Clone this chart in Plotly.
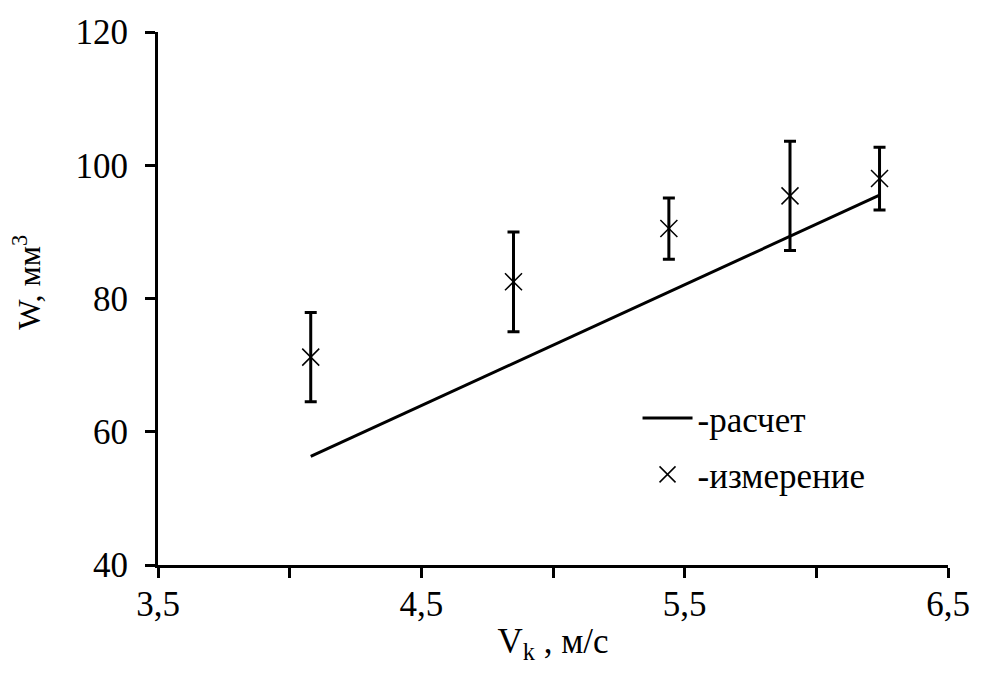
import plotly.graph_objects as go

# Data
v_meas = [4.08, 4.85, 5.44, 5.90, 6.24]
w_meas = [71.2, 82.5, 90.5, 95.4, 98.0]
w_err = [6.7, 7.5, 4.6, 8.2, 4.7]
v_calc = [4.08, 4.85, 5.44, 5.90, 6.24]
w_calc = [56.3, 70.3, 81.0, 89.3, 95.5]

x_tickvals = [3.5, 4.5, 5.5, 6.5]
x_ticktext = ["3,5", "4,5", "5,5", "6,5"]
x_minor = [4.0, 5.0, 6.0]
y_tickvals = [40, 60, 80, 100, 120]
y_ticktext = ["40", "60", "80", "100", "120"]

FONT = "Liberation Serif"

fig = go.Figure()
fig.add_trace(go.Scatter(
    x=v_calc, y=w_calc, mode="lines", name="-расчет",
    line=dict(color="black", width=3), legendgroup="a"))
fig.add_trace(go.Scatter(
    x=v_meas, y=w_meas, mode="markers", name="-измерение",
    marker=dict(symbol="x-thin-open", size=17, color="black",
                line=dict(color="black", width=1.5)),
    error_y=dict(type="data", array=w_err, visible=True,
                 color="black", thickness=3, width=6),
    legendgroup="b"))

fig.update_layout(
    width=982, height=673,
    margin=dict(l=158, r=25, t=32, b=108),
    paper_bgcolor="white", plot_bgcolor="white",
    font=dict(family=FONT, size=35, color="black"),
    showlegend=True,
    legend=dict(x=0.607, y=0.223, xanchor="left", yanchor="middle",
                bgcolor="rgba(0,0,0,0)",
                font=dict(family=FONT, size=35, color="black"),
                tracegroupgap=8, itemwidth=50),
    xaxis=dict(range=[3.5, 6.5], tickvals=x_tickvals, ticktext=x_ticktext,
               showline=True, linecolor="black", linewidth=3,
               ticks="outside", ticklen=10, tickwidth=2.5, tickcolor="black",
               minor=dict(tickvals=x_minor, ticks="outside", ticklen=10,
                          tickwidth=2.5, tickcolor="black", showgrid=False),
               tickfont=dict(family=FONT, size=35, color="black"),
               ticklabelstandoff=-4,
               showgrid=False, zeroline=False,
               title=dict(text="V<sub>k</sub>\u00a0, м/с",
                          font=dict(family=FONT, size=35, color="black"),
                          standoff=6)),
    yaxis=dict(range=[40, 120], tickvals=y_tickvals, ticktext=y_ticktext,
               showline=True, linecolor="black", linewidth=3,
               ticks="outside", ticklen=10, tickwidth=2.5, tickcolor="black",
               tickfont=dict(family=FONT, size=35, color="black"),
               ticklabelstandoff=10,
               showgrid=False, zeroline=False),
    annotations=[dict(text="W, мм<sup>3</sup>", xref="paper", yref="paper",
                      x=-0.166, y=0.531, textangle=-90, showarrow=False,
                      xanchor="center", yanchor="middle",
                      font=dict(family=FONT, size=32, color="black"))],
)

fig.write_html("out.html")
